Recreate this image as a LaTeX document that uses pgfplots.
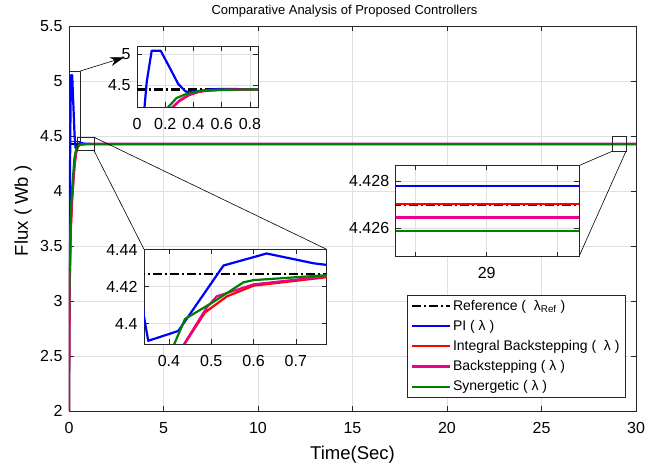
\documentclass[border=0pt]{standalone}
\usepackage{fontspec}
\setmainfont{Liberation Sans}
\usepackage{pgfplots}
\pgfplotsset{compat=1.18}
\usepackage{pgfplotstable}
\usetikzlibrary{arrows.meta}

\definecolor{mgreen}{rgb}{0,0.5,0}
\definecolor{frame}{gray}{0.15}
\definecolor{gridc}{gray}{0.88}

% flux responses (time, value)
\pgfplotstableread{
t v
0 4.427
2 4.427
28 4.427
30 4.427
}\refData

\pgfplotstableread{
t v
0 2.0
0.02 2.9
0.04 3.8
0.069 4.553
0.104 5.053
0.168 5.053
0.234 4.77
0.292 4.516
0.341 4.4037
0.351 4.3907
0.422 4.396
0.529 4.4314
0.631 4.4379
0.742 4.4326
0.774 4.4317
0.9 4.4295
1.2 4.4282
2 4.4278
28 4.4278
30 4.4278
}\piData

\pgfplotstableread{
t v
0 2.0
0.01 2.55
0.04 3.15
0.1 3.66
0.17 3.93
0.256 4.145
0.3 4.24
0.37 4.338
0.437 4.389
0.485 4.406
0.537 4.4147
0.6 4.4205
0.774 4.4251
1.0 4.4266
2 4.42703
28 4.42703
30 4.42703
}\ibData

\pgfplotstableread{
t v
0 2.0
0.01 2.6
0.04 3.2
0.1 3.7
0.17 3.95
0.253 4.145
0.3 4.25
0.37 4.345
0.436 4.389
0.489 4.4086
0.513 4.4147
0.537 4.4165
0.6 4.4212
0.774 4.4256
1.0 4.4263
2 4.42646
28 4.42646
30 4.42646
}\bsData

\pgfplotstableread{
t v
0 2.0
0.005 2.8
0.02 3.1
0.06 3.55
0.12 3.88
0.17 4.03
0.222 4.145
0.28 4.29
0.35 4.356
0.4126 4.389
0.438 4.4025
0.505 4.4117
0.576 4.4223
0.6 4.4235
0.774 4.4262
1.0 4.4262
2 4.4259
28 4.4259
30 4.4259
}\synData

\pgfplotsset{
  common/.style={
    scale only axis,
    axis line style={frame, line width=0.5pt},
    tick style={frame, line width=0.5pt},
    major tick length=5pt,
    tick align=inside,
    grid=major,
    grid style={gridc, line width=0.5pt},
    tick label style={font=\fontsize{16}{18}\selectfont},
    /pgf/number format/assume math mode=true,
    axis background/.style={fill=white},
    xticklabel style={yshift=-7.5pt},
    yticklabel style={xshift=-3pt},
  },
  refl/.style={black, line width=2.2pt, dash pattern=on 9pt off 3pt on 2pt off 3pt},
  curve/.style={line width=2.2pt, line join=round},
}

\newcommand{\curves}{%
  \addplot[refl] table[x=t,y=v] {\refData};
  \addplot[curve, blue] table[x=t,y=v] {\piData};
  \addplot[curve, red] table[x=t,y=v] {\ibData};
  \addplot[curve, magenta] table[x=t,y=v] {\bsData};
  \addplot[curve, mgreen] table[x=t,y=v] {\synData};
}

\begin{document}
\begin{tikzpicture}
\useasboundingbox (-69pt,-59pt) rectangle (590pt,411pt);

\begin{axis}[common,
  at={(0pt,0pt)}, anchor=south west,
  width=567pt, height=385pt,
  xmin=0, xmax=30, ymin=2, ymax=5.5,
  xtick={0,5,10,15,20,25,30},
  ytick={2,2.5,3,3.5,4,4.5,5,5.5},
  xlabel={Time(Sec)}, ylabel={Flux ( Wb )},
  label style={font=\fontsize{18.5}{20}\selectfont},
  xlabel style={at={(axis description cs:0.5,-0.114)}, anchor=center},
  ylabel style={at={(axis description cs:-0.0811,0.52)}, anchor=center},
  title={Comparative Analysis of Proposed Controllers},
  title style={font=\fontsize{13}{15}\selectfont, at={(axis description cs:0.5,1)},
    anchor=base, yshift=5.5pt, xshift=-8pt, inner sep=0pt},
  legend style={at={(axis description cs:0.982,0.0345)}, anchor=south east,
    draw=frame, line width=0.5pt, fill=white,
    font=\fontsize{14}{16}\selectfont, cells={anchor=west},
    inner xsep=4pt, inner ysep=3pt, row sep=4.5pt},
  legend image code/.code={\draw[#1] (0pt,0pt) -- (38pt,0pt);},
]
\curves
\addlegendentry{Reference (~ λ\textsubscript{Ref} )}
\addlegendentry{PI (~λ )}
\addlegendentry{Integral Backstepping (~ λ )}
\addlegendentry{Backstepping (~λ )}
\addlegendentry{Synergetic (~λ )}

% zoom markers and connectors
\draw[frame, line width=0.6pt] (axis cs:0,4.452) rectangle (axis cs:0.62,5.092);
\draw[black, line width=0.6pt, -{Stealth[length=14pt,width=9pt]}]
  (axis cs:0.62,5.092) -- (axis cs:2.91,5.214);
\draw[frame, line width=0.6pt] (axis cs:0.44,4.368) rectangle (axis cs:1.32,4.489);
\draw[black, line width=0.6pt] (axis cs:1.32,4.489) -- (axis cs:13.63,3.47);
\draw[black, line width=0.6pt] (axis cs:1.32,4.368) -- (axis cs:3.97,3.47);
\draw[frame, line width=0.6pt] (axis cs:28.75,4.362) rectangle (axis cs:29.47,4.495);
\draw[black, line width=0.6pt] (axis cs:28.75,4.362) -- (axis cs:26.98,4.2305);
\draw[black, line width=0.6pt] (axis cs:29.47,4.362) -- (axis cs:26.98,3.403);
\end{axis}

% inset: start-up overshoot
\begin{axis}[common,
  at={(68pt,304pt)}, anchor=south west,
  width=121pt, height=61pt,
  xmin=0, xmax=0.857, ymin=4.145, ymax=5.13,
  restrict x to domain=0:2,
  xtick={0,0.2,0.4,0.6,0.8}, ytick={4.5,5},
]
\curves
\end{axis}

% inset: settling
\begin{axis}[common,
  at={(75pt,67pt)}, anchor=south west,
  width=182.7pt, height=94.7pt,
  xmin=0.341, xmax=0.773, ymin=4.389, ymax=4.4402,
  restrict x to domain=0:2,
  xtick={0.4,0.5,0.6,0.7}, ytick={4.4,4.42,4.44},
  yticklabels={4.4,4.42,4.44},
]
\curves
\end{axis}

% inset: steady state near t = 29 s
\begin{axis}[common,
  at={(326.7pt,154.3pt)}, anchor=south west,
  width=183.3pt, height=91.7pt,
  xmin=28.936, xmax=29.065, ymin=4.42479, ymax=4.4287,
  restrict x to domain=28:30,
  xtick={28.95,29,29.05}, xticklabels={,29,},
  ytick={4.426,4.428}, yticklabels={4.426,4.428},
]
\curves
\end{axis}
\end{tikzpicture}
\end{document}
